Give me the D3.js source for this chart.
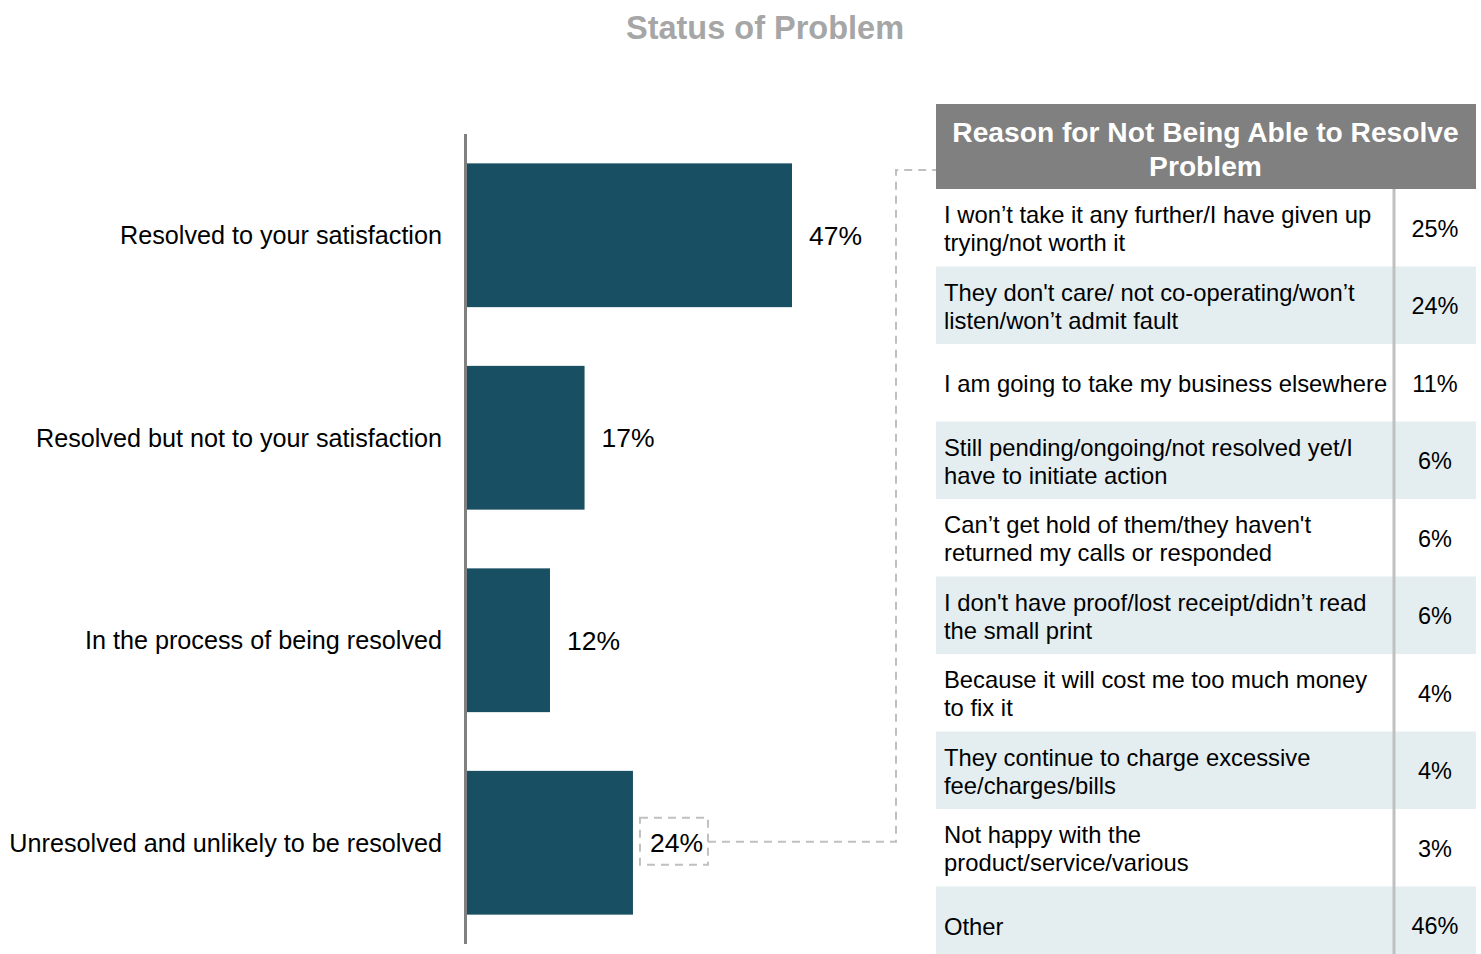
<!DOCTYPE html>
<html>
<head>
<meta charset="utf-8">
<script src="https://cdn.jsdelivr.net/npm/d3@7"></script>
<style>
  html, body { margin: 0; padding: 0; background: #fff; }
  svg { display: block; font-family: "Liberation Sans", Arial, sans-serif; }
</style>
</head>
<body>
<svg id="chart" width="1481" height="954"></svg>
<script>
const categories = [
  "Resolved to your satisfaction",
  "Resolved but not to your satisfaction",
  "In the process of being resolved",
  "Unresolved and unlikely to be resolved"
];
const values = [47, 17, 12, 24];

const tableTitle = ["Reason for Not Being Able to Resolve", "Problem"];
const reasons = [
  ["I won\u2019t take it any further/I have given up", "trying/not worth it"],
  ["They don't care/ not co-operating/won\u2019t", "listen/won\u2019t admit fault"],
  ["I am going to take my business elsewhere"],
  ["Still pending/ongoing/not resolved yet/I", "have to initiate action"],
  ["Can\u2019t get hold of them/they haven't", "returned my calls or responded"],
  ["I don't have proof/lost receipt/didn\u2019t read", "the small print"],
  ["Because it will cost me too much money", "to fix it"],
  ["They continue to charge excessive", "fee/charges/bills"],
  ["Not happy with the", "product/service/various"],
  ["Other"]
];
const reasonValues = [25, 24, 11, 6, 6, 6, 4, 4, 3, 46];

const svg = d3.select("#chart");

// Title
svg.append("text")
  .attr("x", 765).attr("y", 39)
  .attr("text-anchor", "middle")
  .attr("font-size", 32.5).attr("font-weight", "bold")
  .attr("fill", "#a6a6a6")
  .text("Status of Problem");

// Bar chart
const x = d3.scaleLinear().domain([0, 47]).range([467, 792]);
const y = d3.scaleBand().domain(categories).range([134, 944]).paddingInner(0.29).paddingOuter(0.145);

svg.append("g").selectAll("rect").data(values).join("rect")
  .attr("x", x(0))
  .attr("y", (d, i) => y(categories[i]))
  .attr("width", d => x(d) - x(0))
  .attr("height", y.bandwidth())
  .attr("fill", "#184f62");

// axis line
svg.append("line")
  .attr("x1", 465.5).attr("x2", 465.5)
  .attr("y1", 134).attr("y2", 944)
  .attr("stroke", "#808080").attr("stroke-width", 3);

svg.append("g").selectAll("text").data(categories).join("text")
  .attr("x", 442)
  .attr("y", d => y(d) + y.bandwidth() / 2)
  .attr("dy", "0.35em")
  .attr("text-anchor", "end")
  .attr("font-size", 25.2)
  .attr("fill", "#000")
  .text(d => d);

svg.append("g").selectAll("text").data(values).join("text")
  .attr("x", d => x(d) + 17)
  .attr("y", (d, i) => y(categories[i]) + y.bandwidth() / 2)
  .attr("dy", "0.35em")
  .attr("font-size", 26.5)
  .attr("fill", "#000")
  .text(d => d + "%");

// Dashed callout
const lastCat = categories[3];
const cy = y(lastCat) + y.bandwidth() / 2 - 1;
const bx0 = x(values[3]) + 7;
const bx1 = bx0 + 68;
const dash = { stroke: "#c0c0c0", "stroke-width": 2, "stroke-dasharray": "8,6", fill: "none" };
const box = svg.append("rect")
  .attr("x", bx0).attr("y", cy - 24)
  .attr("width", bx1 - bx0).attr("height", 47);
Object.entries(dash).forEach(([k, v]) => box.attr(k, v));

// Table geometry
const tX0 = 936, tX1 = 1476, divX = 1394;
const headY0 = 104, headY1 = 189;
const rowH = 77.5;
const rowY = d3.scaleBand().domain(d3.range(reasons.length))
  .range([headY1, headY1 + rowH * reasons.length]);

const conn = svg.append("path")
  .attr("d", d3.line()([[bx1, cy], [896, cy], [896, 170], [tX0, 170]]));
Object.entries(dash).forEach(([k, v]) => conn.attr(k, v));

// header
svg.append("rect")
  .attr("x", tX0).attr("y", headY0)
  .attr("width", tX1 - tX0).attr("height", headY1 - headY0)
  .attr("fill", "#808080");
svg.append("g").selectAll("text").data(tableTitle).join("text")
  .attr("x", (tX0 + tX1) / 2 - 0.5)
  .attr("y", (d, i) => 132.5 + i * 34)
  .attr("dy", "0.35em")
  .attr("text-anchor", "middle")
  .attr("font-size", 28.2).attr("font-weight", "bold")
  .attr("fill", "#fff")
  .text(d => d);

// rows
const rows = svg.append("g").selectAll("g").data(reasons).join("g")
  .attr("transform", (d, i) => `translate(0,${rowY(i)})`);
rows.append("rect")
  .attr("x", tX0).attr("width", tX1 - tX0)
  .attr("height", rowY.bandwidth())
  .attr("fill", (d, i) => i % 2 === 1 ? "#e4eef1" : "#ffffff");
rows.each(function(lines, i) {
  const g = d3.select(this);
  const lh = 28;
  const start = rowH / 2 - (lines.length - 1) * lh / 2 + 1;
  g.selectAll("text.r").data(lines).join("text")
    .attr("class", "r")
    .attr("x", 944)
    .attr("y", (d, j) => start + j * lh)
    .attr("dy", "0.35em")
    .attr("font-size", 23.8)
    .attr("fill", "#000")
    .text(d => d);
  g.append("text")
    .attr("x", 1435)
    .attr("y", rowH / 2 + 1)
    .attr("dy", "0.35em")
    .attr("text-anchor", "middle")
    .attr("font-size", 23.5)
    .attr("fill", "#000")
    .text(reasonValues[i] + "%");
});

svg.append("line")
  .attr("x1", divX).attr("x2", divX)
  .attr("y1", headY1).attr("y2", headY1 + rowH * reasons.length)
  .attr("stroke", "#c0c0c0").attr("stroke-width", 3);
</script>
</body>
</html>
